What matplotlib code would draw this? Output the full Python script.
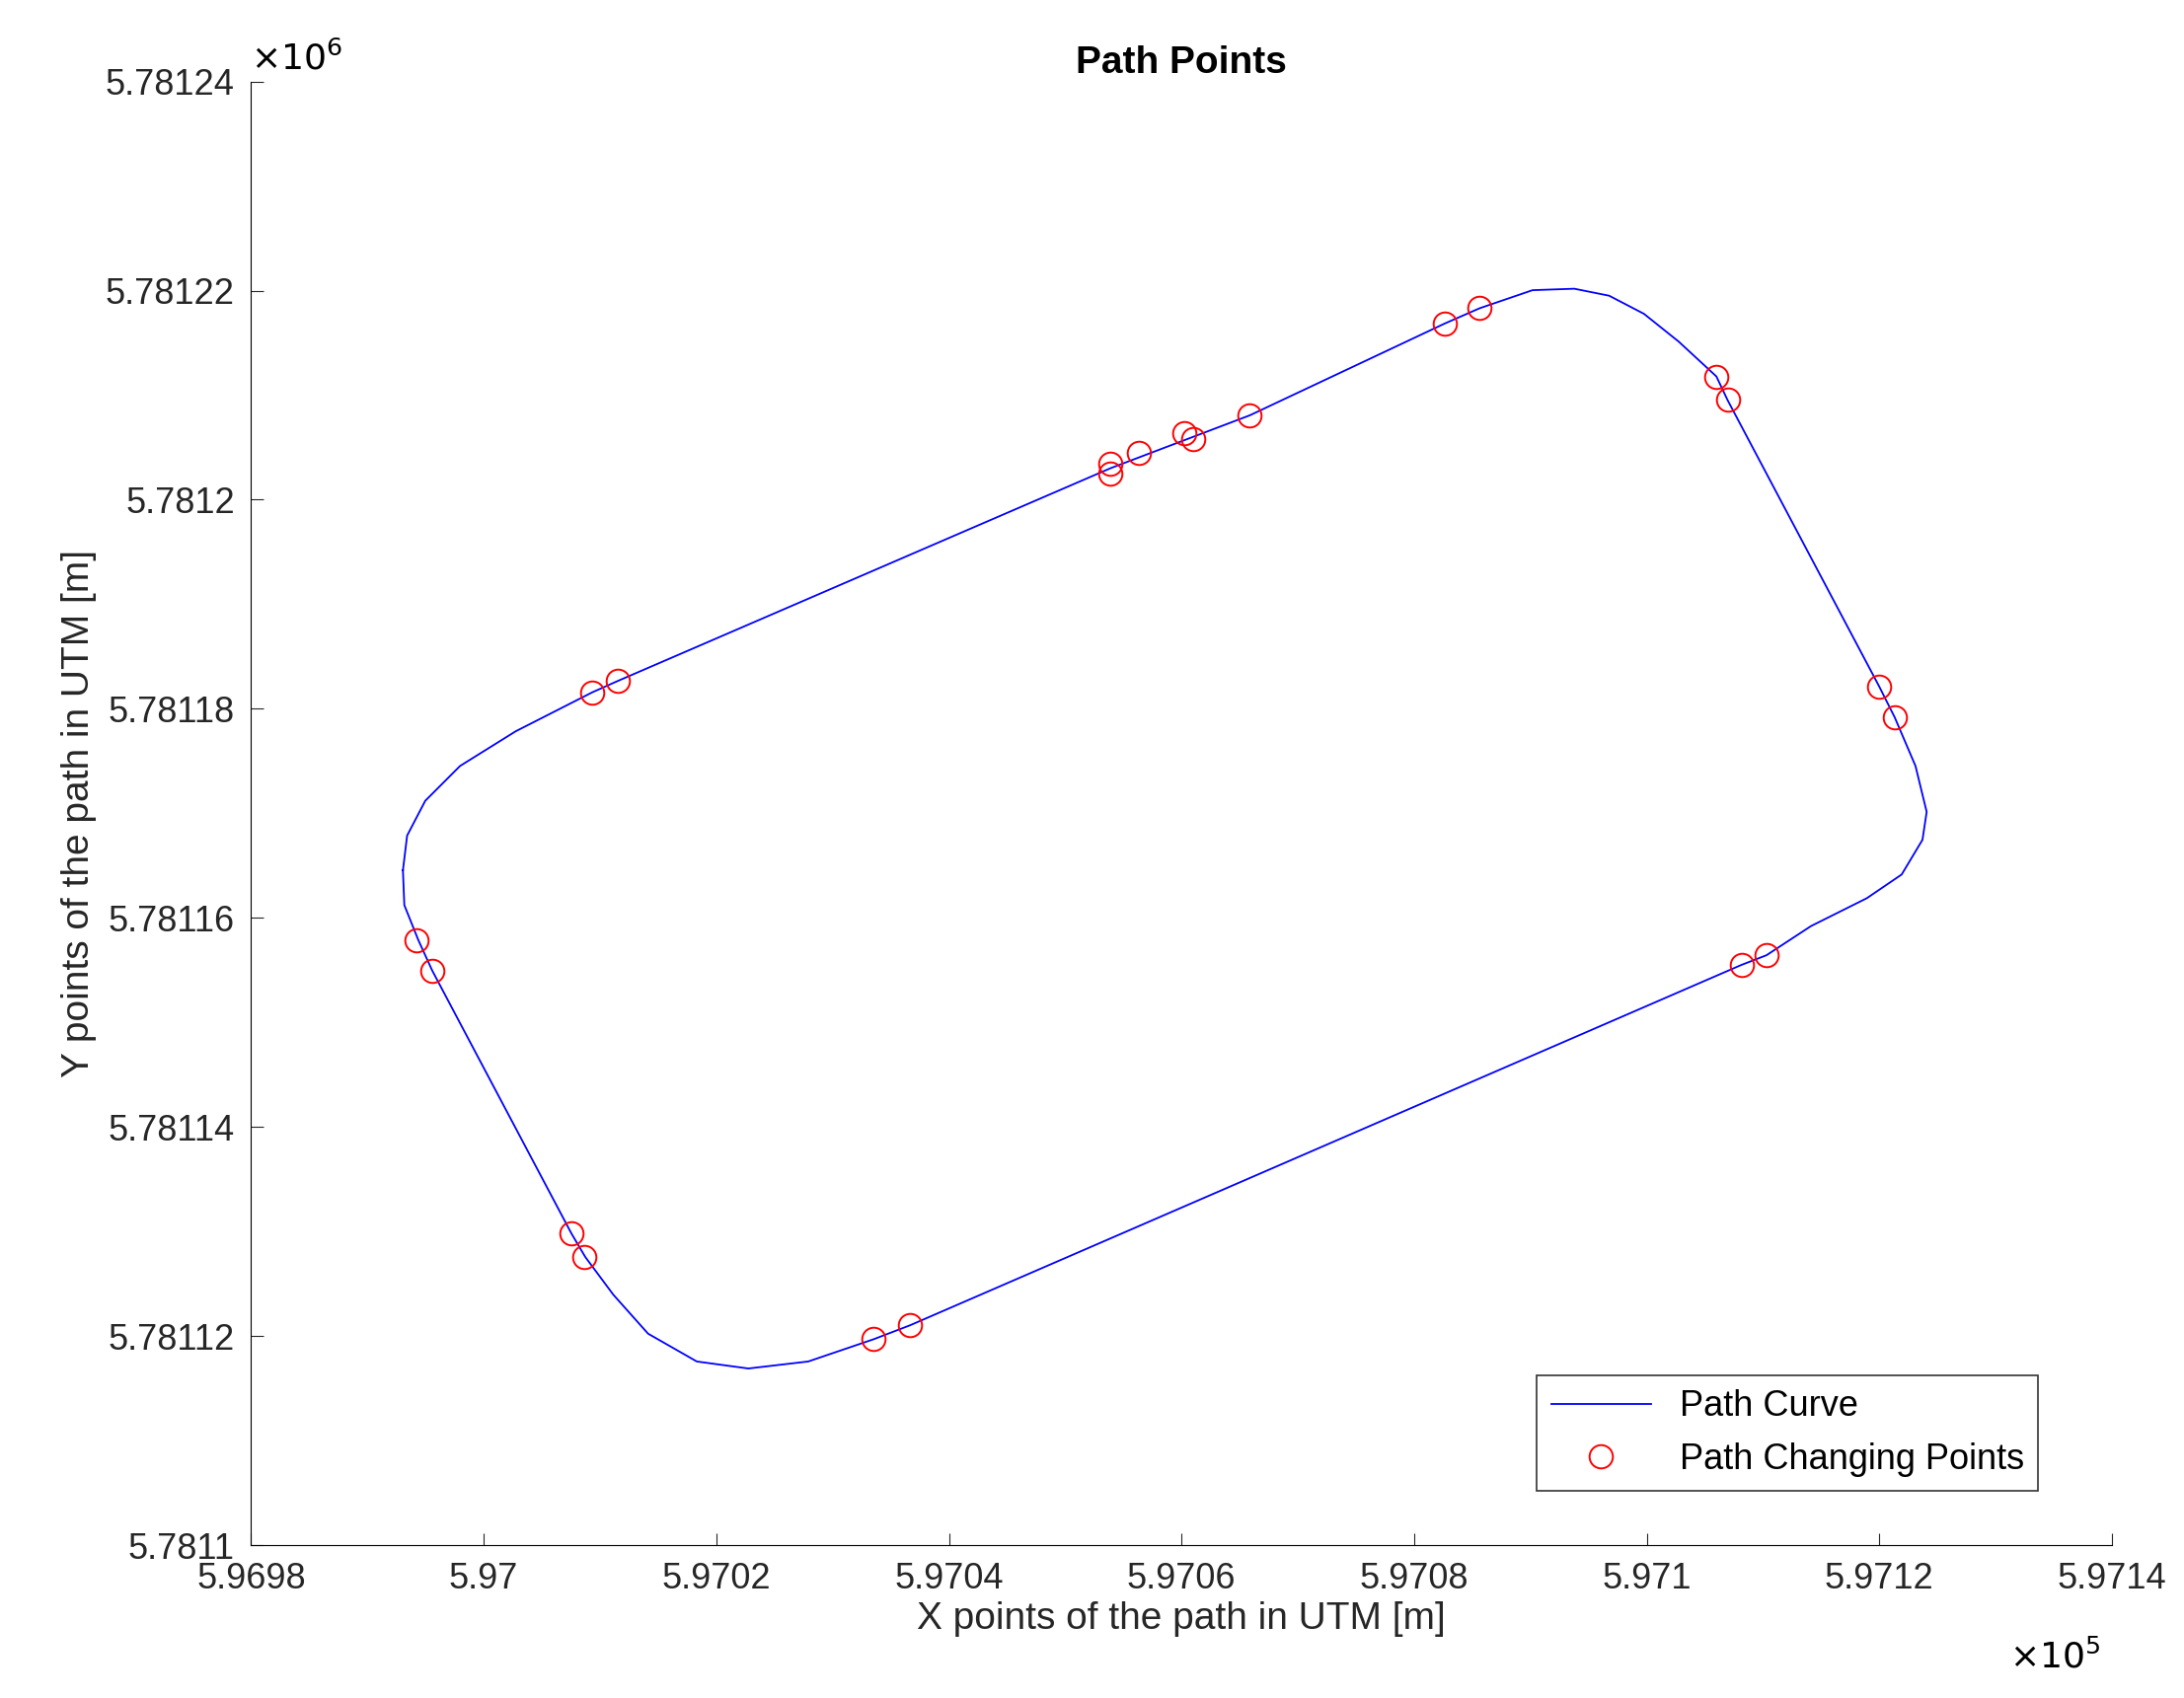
import matplotlib.pyplot as plt
import matplotlib.ticker as mtick

# Curva do caminho (em metros UTM)
curva_x = [596993.05, 596993.41, 596994.97, 596997.96, 597002.75, 597009.34, 597011.50,
           597053.89, 597065.87, 597082.63, 597085.63, 597090.18, 597093.77, 597096.77,
           597099.76, 597102.75, 597105.99, 597106.95, 597120.00, 597121.32, 597123.11,
           597124.07, 597123.71, 597121.92, 597118.92, 597114.13, 597110.30, 597108.14,
           597036.65, 597033.53, 597027.90, 597022.75, 597018.32, 597014.13, 597011.14,
           597008.74, 597007.54, 596995.57, 596994.37, 596993.17, 596993.05]
curva_y = [5781164.55, 5781167.87, 5781171.20, 5781174.53, 5781177.85, 5781181.58, 5781182.65,
           5781203.01, 5781208.07, 5781216.85, 5781218.31, 5781220.04, 5781220.18, 5781219.51,
           5781217.78, 5781215.12, 5781211.79, 5781209.53, 5781182.11, 5781179.19, 5781174.53,
           5781170.14, 5781167.47, 5781164.15, 5781161.88, 5781159.22, 5781156.43, 5781155.50,
           5781121.03, 5781119.70, 5781117.57, 5781116.90, 5781117.57, 5781120.23, 5781123.96,
           5781127.55, 5781129.81, 5781154.96, 5781157.89, 5781161.22, 5781164.55]

# Pontos de mudança do caminho
pontos_x = [596994.25, 596995.57, 597007.54, 597008.62, 597033.53, 597036.65, 597009.34,
            597011.50, 597053.89, 597053.89, 597056.29, 597060.24, 597060.96, 597065.87,
            597082.63, 597085.63, 597105.99, 597106.95, 597120.00, 597121.32, 597108.14, 597110.30]
pontos_y = [5781157.89, 5781154.96, 5781129.81, 5781127.55, 5781119.70, 5781121.03, 5781181.58,
            5781182.65, 5781203.41, 5781202.48, 5781204.47, 5781206.33, 5781205.80, 5781208.07,
            5781216.85, 5781218.31, 5781211.79, 5781209.53, 5781182.11, 5781179.19, 5781155.50, 5781156.43]

plt.rcParams['font.family'] = ['Liberation Sans', 'DejaVu Sans']
fig = plt.figure(figsize=(22.13, 17.21), dpi=100)
ax = fig.add_axes([0.115, 0.09, 0.852, 0.862])

ax.plot(curva_x, curva_y, color='blue', linewidth=1.3, label='Path Curve')
ax.plot(pontos_x, pontos_y, 'o', markerfacecolor='none', markeredgecolor='red',
        markersize=17, markeredgewidth=1.4, label='Path Changing Points')

ax.set_xlim(596980, 597140)
ax.set_ylim(5781100, 5781240)
ax.xaxis.set_major_locator(mtick.MultipleLocator(20))
ax.yaxis.set_major_locator(mtick.MultipleLocator(20))
ax.xaxis.set_major_formatter(mtick.FuncFormatter(lambda v, p: f'{v/1e5:.5g}'))
ax.yaxis.set_major_formatter(mtick.FuncFormatter(lambda v, p: f'{v/1e6:.6g}'))
ax.tick_params(direction='in', labelsize=26, length=9, colors='#262626', pad=12)
for s in ['top', 'right']:
    ax.spines[s].set_visible(False)

ax.set_title('Path Points', fontsize=28, fontweight='bold')
ax.set_xlabel('X points of the path in UTM [m]', fontsize=28, color='#262626', labelpad=4)
ax.set_ylabel('Y points of the path in UTM [m]', fontsize=28, color='#262626', labelpad=6)
ax.text(0.0, 1.003, r'$\times10^6$', transform=ax.transAxes, fontsize=26, va='bottom')
ax.text(0.945, -0.065, r'$\times10^5$', transform=ax.transAxes, fontsize=26, va='top')

leg = ax.legend(loc='lower right', fontsize=26, fancybox=False, edgecolor='black',
                bbox_to_anchor=(0.97, 0.025), handlelength=2.8)
leg.get_frame().set_linewidth(1.2)

fig.savefig('out.png', dpi=100)
